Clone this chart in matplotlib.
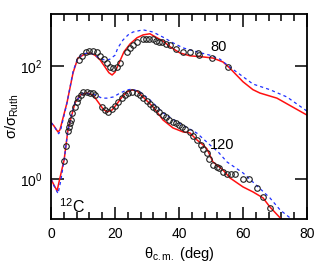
import numpy as np
import matplotlib
matplotlib.use("Agg")
import matplotlib.pyplot as plt

plt.rcParams['font.family'] = ['Liberation Sans', 'DejaVu Sans']
plt.rcParams['mathtext.fontset'] = 'custom'
plt.rcParams['mathtext.rm'] = 'Liberation Sans'
plt.rcParams['mathtext.it'] = 'Liberation Sans:italic'

# 80 MeV: data points (theta_cm, log10 sigma/sigma_Ruth)
th_80 = [8.75, 9.7, 10.9, 11.9, 13.1, 14.4, 15.3, 16.6, 17.5, 18.4, 19.4, 20.6, 21.6,
         23.75, 24.7, 25.6, 26.9, 28.75, 29.7, 30.6, 31.9, 32.8, 33.75, 34.7, 35.9,
         37.2, 39.1, 41.25, 43.4, 45.9, 46.1, 50.3, 55.3]
lg_80 = [2.106, 2.177, 2.248, 2.265, 2.265, 2.248, 2.177, 2.124, 2.053, 1.982, 1.965,
         1.982, 2.053, 2.248, 2.319, 2.372, 2.425, 2.478, 2.478, 2.478, 2.478, 2.442,
         2.425, 2.425, 2.389, 2.372, 2.301, 2.248, 2.248, 2.23, 2.195, 2.142, 1.982]

# 80 MeV: red solid calculation
th_80_red = [0, 0.9, 2.2, 2.8, 5.0, 6.9, 8.4, 10.6, 12.2, 13.75, 15.3, 16.9, 18.1, 19.1,
             20.0, 21.25, 22.8, 24.7, 26.9, 28.8, 30.9, 33.1, 35.0, 37.2, 40.3, 43.4,
             47.5, 50.6, 53.75, 55.9, 60.0, 63.1, 65.3, 70.6, 75.6, 80.0]
lg_80_red = [1.0, 0.94, 0.83, 0.87, 1.35, 1.88, 2.14, 2.21, 2.23, 2.19, 2.11, 1.98, 1.88,
             1.84, 1.89, 2.05, 2.25, 2.39, 2.50, 2.55, 2.57, 2.50, 2.44, 2.34, 2.23, 2.18,
             2.16, 2.14, 2.07, 1.96, 1.72, 1.58, 1.52, 1.43, 1.27, 1.13]

# 80 MeV: blue dashed calculation
th_80_blue = [0, 0.9, 2.4, 3.0, 5.0, 6.9, 8.4, 10.6, 12.2, 13.75, 15.3, 17.2, 18.4, 20.0,
              20.9, 22.5, 24.1, 25.6, 28.75, 31.9, 35.0, 38.1, 41.25, 45.6, 49.7, 52.8,
              55.9, 60.0, 63.1, 68.4, 73.75, 80.0]
lg_80_blue = [1.0, 0.94, 0.80, 0.86, 1.35, 1.90, 2.15, 2.22, 2.23, 2.19, 2.13, 2.10, 2.12,
              2.19, 2.32, 2.46, 2.55, 2.60, 2.64, 2.60, 2.51, 2.41, 2.32, 2.25, 2.19, 2.12,
              1.98, 1.81, 1.68, 1.58, 1.45, 1.20]

# 120 MeV: data points
th_120 = [4.06, 4.69, 5.31, 5.63, 5.94, 6.25, 6.56, 7.5, 8.13, 8.44, 9.38, 10.0, 11.25,
          12.2, 13.1, 13.75, 15.9, 16.9, 17.8, 19.1, 20.0, 20.9, 22.2, 23.1, 24.1, 25.3,
          26.9, 27.8, 28.75, 30.0, 30.9, 31.9, 32.8, 33.75, 35.0, 35.9, 36.9, 38.1, 39.1,
          40.0, 40.9, 41.9, 43.4, 44.4, 45.6, 46.9, 47.5, 48.75, 49.4, 50.6, 51.9, 52.5,
          53.75, 55.0, 56.25, 57.5, 60.0, 61.9, 64.4, 66.25, 68.4]
lg_120 = [0.319, 0.584, 0.850, 0.920, 0.991, 1.044, 1.168, 1.274, 1.363, 1.434, 1.487,
          1.540, 1.540, 1.522, 1.522, 1.487, 1.274, 1.221, 1.186, 1.239, 1.292, 1.363,
          1.434, 1.487, 1.522, 1.540, 1.522, 1.487, 1.434, 1.381, 1.327, 1.274, 1.239,
          1.186, 1.133, 1.097, 1.044, 1.009, 0.991, 0.956, 0.920, 0.885, 0.832, 0.761,
          0.690, 0.602, 0.531, 0.460, 0.354, 0.248, 0.212, 0.195, 0.124, 0.088, 0.088,
          0.088, 0.0, 0.0, -0.159, -0.319, -0.513]

# 120 MeV: red solid calculation
th_120_red = [0, 0.9, 1.9, 2.8, 4.1, 5.3, 6.25, 7.5, 9.1, 11.25, 13.1, 14.7, 16.25, 17.5,
              19.1, 20.6, 22.2, 23.75, 25.3, 26.9, 28.75, 31.9, 35.0, 38.1, 41.25, 43.4,
              45.6, 47.5, 48.75, 50.6, 53.75, 55.9, 60.0, 63.1, 66.25, 68.4, 71.6]
lg_120_red = [0.0, -0.106, -0.212, 0.018, 0.336, 0.867, 1.08, 1.345, 1.487, 1.522, 1.487,
              1.363, 1.239, 1.186, 1.221, 1.327, 1.451, 1.540, 1.575, 1.558, 1.451, 1.274,
              1.044, 0.903, 0.832, 0.814, 0.690, 0.602, 0.531, 0.301, 0.159, 0.018, -0.142,
              -0.230, -0.336, -0.496, -0.69]

# 120 MeV: blue dashed calculation
th_120_blue = [0, 0.9, 2.2, 3.0, 4.1, 5.3, 6.25, 7.5, 10.0, 13.75, 15.9, 17.5, 19.4, 21.6,
               23.75, 25.3, 27.8, 30.9, 35.0, 39.4, 42.8, 45.6, 49.7, 52.2, 55.0, 60.0,
               64.7, 68.4, 71.6, 74.7]
lg_120_blue = [0.0, -0.12, -0.26, -0.05, 0.33, 0.87, 1.09, 1.36, 1.52, 1.49, 1.43, 1.43,
               1.45, 1.52, 1.575, 1.59, 1.54, 1.40, 1.17, 1.01, 0.90, 0.81, 0.60, 0.48,
               0.30, 0.106, -0.14, -0.336, -0.55, -0.69]

fig = plt.figure(figsize=(3.32, 2.77), dpi=100)
ax = fig.add_axes([0.1536, 0.2094, 0.7711, 0.7401])

for th, lg in [(th_80_red, lg_80_red), (th_120_red, lg_120_red)]:
    ax.plot(th, 10 ** np.array(lg), color='#ff1010', lw=1.1, zorder=2)
for th, lg in [(th_80_blue, lg_80_blue), (th_120_blue, lg_120_blue)]:
    ax.plot(th, 10 ** np.array(lg), color='#2030ff', lw=0.9, ls=(0, (2.5, 2.5)), zorder=2)
for th, lg in [(th_80, lg_80), (th_120, lg_120)]:
    ax.plot(th, 10 ** np.array(lg), 'o', ms=4.0, mfc='none', mec='#202020', mew=0.8, zorder=3)

ax.set_yscale('log')
ax.set_xlim(0, 80)
ax.set_ylim(0.195, 832)
ax.set_yticks([1, 100])
ax.set_yticklabels(['$10^{0}$', '$10^{2}$'])
ax.yaxis.set_minor_locator(matplotlib.ticker.NullLocator())
ax.set_xticks([0, 20, 40, 60, 80])
ax.set_xticks(np.arange(0, 81, 4), minor=True)
ax.tick_params(which='both', direction='in', top=True, right=True, labelsize=10, width=1.1)
ax.tick_params(which='major', length=9, pad=6)
ax.tick_params(which='minor', length=5)
for s in ax.spines.values():
    s.set_linewidth(1.3)

ax.text(52.5, 10 ** 2.34, '80', fontsize=10.5, ha='center', va='center')
ax.text(53.4, 10 ** 0.60, '120', fontsize=10.5, ha='center', va='center')
ax.text(2.6, 10 ** -0.60, '$^{12}$C', fontsize=11.5, ha='left', va='baseline')

ax.set_xlabel(r'θ$_{\mathrm{c.m.}}$ (deg)', fontsize=10.5, labelpad=3)
ax.set_ylabel(r'σ/σ$_{\mathrm{Ruth}}$', fontsize=10.5, labelpad=-1)

fig.savefig('out.png', dpi=100)
